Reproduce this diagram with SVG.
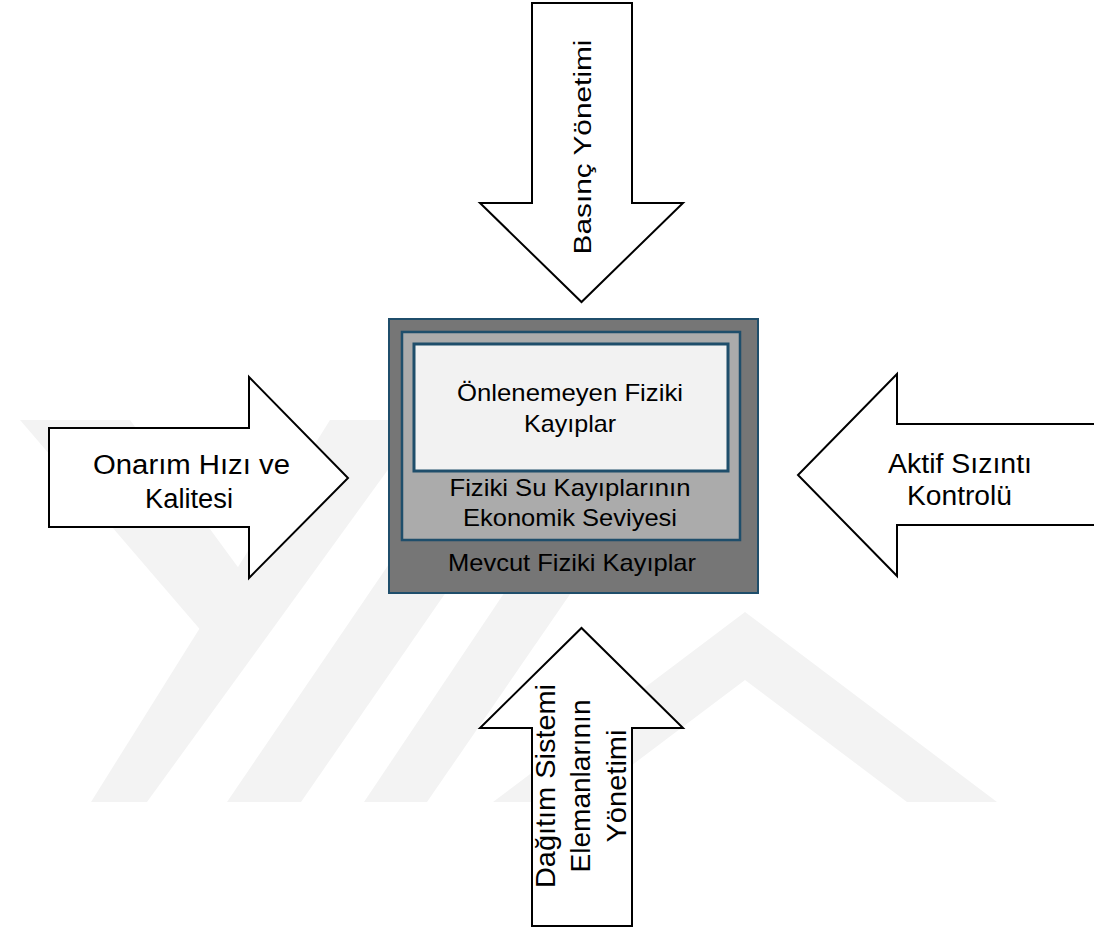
<svg xmlns="http://www.w3.org/2000/svg" width="1094" height="931" viewBox="0 0 1094 931">
<style>
.arrow{fill:#ffffff;stroke:#000000;stroke-width:2;stroke-linejoin:miter}
.t{font-family:"Liberation Sans",Arial,sans-serif;fill:#000000;text-anchor:middle}
.box{stroke:#1F4E6B}
.wm{fill:#F3F3F3}
</style>
<rect x="0" y="0" width="1094" height="931" fill="#ffffff"/>
<g id="watermark">
<polygon class="wm" points="330,420 424,420 147,802 91,802"/>
<polygon class="wm" points="20,420 130,420 262,600 222,655"/>
<polygon class="wm" points="487,420 565,420 301,802 227,802"/>
<polygon class="wm" points="620,420 690,420 427,802 364,802"/>
<polygon class="wm" points="493,802 745,612 997,802 907,802 745,680 583,802"/>
</g>
<g id="connectors">
<g id="arrow-top">
<polygon class="arrow" points="532,3 632,3 632,203 683,203 581.5,302 480,203 532,203"/>
<text class="t" font-size="23" transform="translate(591,147) rotate(-90)" textLength="215" lengthAdjust="spacingAndGlyphs">Basınç Yönetimi</text>
</g>
<g id="arrow-left">
<polygon class="arrow" points="49,428 249,428 249,377 348,478 249,578 249,527 49,527"/>
<text class="t" font-size="27" x="191.5" y="474" textLength="197" lengthAdjust="spacingAndGlyphs">Onarım Hızı ve</text>
<text class="t" font-size="27" x="189" y="508" textLength="88" lengthAdjust="spacingAndGlyphs">Kalitesi</text>
</g>
<g id="arrow-right">
<polygon class="arrow" points="1100,424 897,424 897,374 798,475 897,576 897,525 1100,525"/>
<text class="t" font-size="27" x="960" y="473" textLength="144" lengthAdjust="spacingAndGlyphs">Aktif Sızıntı</text>
<text class="t" font-size="27" x="959.5" y="505" textLength="105" lengthAdjust="spacingAndGlyphs">Kontrolü</text>
</g>
<g id="arrow-bottom">
<polygon class="arrow" points="532,926 632,926 632,728 683,728 581.5,628 480,728 532,728"/>
<text class="t" font-size="28" transform="translate(555,786) rotate(-90)" textLength="204" lengthAdjust="spacingAndGlyphs">Dağıtım Sistemi</text>
<text class="t" font-size="28" transform="translate(590,786) rotate(-90)" textLength="173" lengthAdjust="spacingAndGlyphs">Elemanlarının</text>
<text class="t" font-size="28" transform="translate(626,786) rotate(-90)" textLength="113" lengthAdjust="spacingAndGlyphs">Yönetimi</text>
</g>
</g>
<g id="node-mevcut">
<rect class="box" x="389" y="319" width="369" height="274" fill="#767676" stroke-width="2"/>
<text class="t" font-size="24" x="572" y="571" textLength="248" lengthAdjust="spacingAndGlyphs">Mevcut Fiziki Kayıplar</text>
</g>
<g id="node-ekonomik">
<rect class="box" x="402" y="332" width="338" height="208" fill="#ABABAB" stroke-width="2.5"/>
<text class="t" font-size="24" x="570" y="496" textLength="241" lengthAdjust="spacingAndGlyphs">Fiziki Su Kayıplarının</text>
<text class="t" font-size="24" x="570" y="526" textLength="214" lengthAdjust="spacingAndGlyphs">Ekonomik Seviyesi</text>
</g>
<g id="node-onlenemeyen">
<rect class="box" x="414" y="344" width="314" height="127" fill="#F2F2F2" stroke-width="3"/>
<text class="t" font-size="24" x="570" y="401" textLength="226" lengthAdjust="spacingAndGlyphs">Önlenemeyen Fiziki</text>
<text class="t" font-size="24" x="570" y="432" textLength="92" lengthAdjust="spacingAndGlyphs">Kayıplar</text>
</g>
</svg>
